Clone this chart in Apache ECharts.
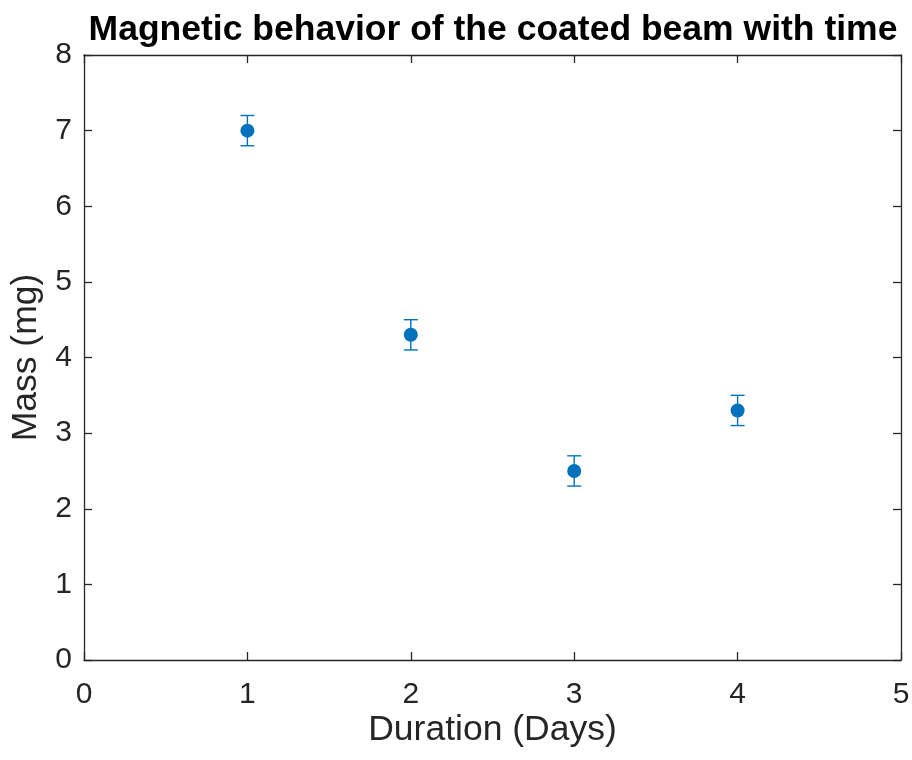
<!DOCTYPE html>
<html>
<head>
<meta charset="utf-8">
<script src="https://cdn.jsdelivr.net/npm/echarts@6/dist/echarts.min.js"></script>
<style>html,body{margin:0;padding:0;background:#fff;}#c{width:912px;height:760px;}</style>
</head>
<body>
<div id="c"></div>
<script>
var days = [1, 2, 3, 4];
var mass = [7.0, 4.3, 2.5, 3.3];
var errLow = [0.2, 0.2, 0.2, 0.2];
var errHigh = [0.2, 0.2, 0.2, 0.2];
var xTicks = [0, 1, 2, 3, 4, 5];
var yTicks = [0, 1, 2, 3, 4, 5, 6, 7, 8];

var pts = days.map(function (d, i) { return [d, mass[i]]; });
var errData = days.map(function (d, i) { return [d, mass[i] - errLow[i], mass[i] + errHigh[i]]; });

var axisColor = '#262626';
var font = 'Liberation Sans, Arial, Helvetica, sans-serif';
var chart = echarts.init(document.getElementById('c'), null, { renderer: 'canvas' });

function baseAxis(extra) {
  var a = {
    type: 'value',
    axisLine: { show: true, onZero: false, lineStyle: { color: axisColor, width: 1.3 } },
    axisTick: { show: true, inside: true, length: 8, lineStyle: { color: axisColor, width: 1.3 } },
    splitLine: { show: false },
    axisLabel: { show: false }
  };
  for (var k in extra) a[k] = extra[k];
  return a;
}

chart.setOption({
  animation: false,
  backgroundColor: '#ffffff',
  title: {
    text: 'Magnetic behavior of the coated beam with time',
    left: 488, textAlign: 'center', top: 7,
    textStyle: { fontFamily: font, fontWeight: 'bold', fontSize: 35.5, color: '#000000' }
  },
  grid: { left: 84, right: 11, top: 55, bottom: 100, containLabel: false, outerBoundsMode: 'none' },
  xAxis: [
    baseAxis({
      min: xTicks[0], max: xTicks[xTicks.length - 1], interval: 1, position: 'bottom',
      name: 'Duration (Days)', nameLocation: 'middle', nameGap: 52, nameMoveOverlap: false,
      nameTextStyle: { fontFamily: font, fontSize: 35.5, color: axisColor },
      axisLabel: { show: true, margin: 20, fontFamily: font, fontSize: 30, color: axisColor }
    }),
    baseAxis({ min: xTicks[0], max: xTicks[xTicks.length - 1], interval: 1, position: 'top' })
  ],
  yAxis: [
    baseAxis({
      min: yTicks[0], max: yTicks[yTicks.length - 1], interval: 1, position: 'left',
      name: 'Mass (mg)', nameLocation: 'middle', nameGap: 40, nameRotate: 90, nameMoveOverlap: false,
      nameTextStyle: { fontFamily: font, fontSize: 35.5, color: axisColor },
      axisLabel: { show: true, margin: 12, fontFamily: font, fontSize: 30, color: axisColor }
    }),
    baseAxis({ min: yTicks[0], max: yTicks[yTicks.length - 1], interval: 1, position: 'right' })
  ],
  series: [
    {
      type: 'custom',
      xAxisIndex: 0, yAxisIndex: 0,
      data: errData,
      renderItem: function (params, api) {
        var x = api.value(0);
        var lo = api.coord([x, api.value(1)]);
        var hi = api.coord([x, api.value(2)]);
        var w = 7;
        var st = { stroke: '#0072BD', lineWidth: 1.4 };
        return {
          type: 'group',
          children: [
            { type: 'line', shape: { x1: lo[0], y1: lo[1], x2: hi[0], y2: hi[1] }, style: st },
            { type: 'line', shape: { x1: lo[0] - w, y1: lo[1], x2: lo[0] + w, y2: lo[1] }, style: st },
            { type: 'line', shape: { x1: hi[0] - w, y1: hi[1], x2: hi[0] + w, y2: hi[1] }, style: st }
          ]
        };
      },
      z: 2
    },
    {
      type: 'scatter',
      xAxisIndex: 0, yAxisIndex: 0,
      data: pts,
      symbol: 'circle',
      symbolSize: 14,
      itemStyle: { color: '#0072BD', opacity: 1 },
      z: 3
    }
  ]
});
</script>
</body>
</html>
